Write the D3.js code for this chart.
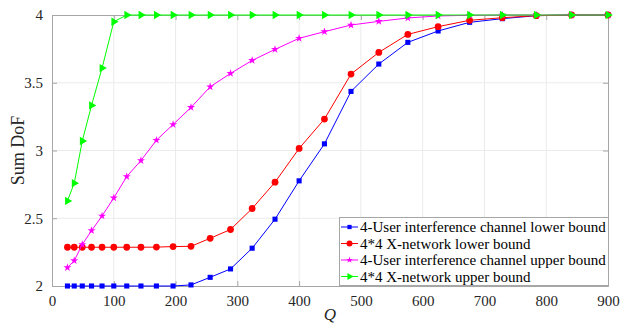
<!DOCTYPE html>
<html><head><meta charset="utf-8">
<script src="https://cdn.jsdelivr.net/npm/d3@7"></script>
<style>body{margin:0;background:#fff}svg{display:block}</style>
</head><body><svg id="c" width="628" height="325" font-family="Liberation Serif"></svg>
<script>
const Q = [25,36,49,64,81,100,121,144,169,196,225,256,289,324,361,400,441,484,529,576,625,676,729,784,841,900];
const icLower = [2,2,2,2,2,2,2,2,2,2,2.008,2.064,2.126,2.279,2.493,2.776,3.049,3.436,3.638,3.798,3.882,3.946,3.973,3.995,4,4];
const xnLower = [2.286,2.286,2.286,2.286,2.286,2.286,2.286,2.286,2.287,2.291,2.293,2.352,2.417,2.572,2.766,3.015,3.232,3.564,3.724,3.857,3.914,3.961,3.980,3.995,4,4];
const icUpper = [2.136,2.187,2.306,2.409,2.517,2.650,2.808,2.926,3.076,3.192,3.318,3.470,3.569,3.665,3.746,3.828,3.877,3.926,3.953,3.978,3.993,3.998,4,4,4,4];
const xnUpper = [2.628,2.759,3.07,3.333,3.608,3.95,4,4,4,4,4,4,4,4,4,4,4,4,4,4,4,4,4,4,4,4];
const seriesNames = ["4-User interference channel lower bound","4*4 X-network lower bound","4-User interference channel upper bound","4*4 X-network upper bound"];
const xTicks = [0,100,200,300,400,500,600,700,800,900];
const yTicks = [2,2.5,3,3.5,4];

const FONT = "Liberation Serif";
const series = [
  {name:seriesNames[0], values:icLower, color:"#0000ff", sym:d3.symbolSquare, size:26, lsize:18, rot:0},
  {name:seriesNames[1], values:xnLower, color:"#ff0000", sym:d3.symbolCircle, size:36, lsize:28, rot:0},
  {name:seriesNames[2], values:icUpper, color:"#ff00ff", sym:d3.symbolStar, size:20, lsize:14, rot:0},
  {name:seriesNames[3], values:xnUpper, color:"#00ff00", sym:d3.symbolTriangle, size:30, lsize:22, rot:90}
];

const svg = d3.select("#c");
const L=52, R=608, T=15, B=286;
const x = d3.scaleLinear().domain([0,900]).range([L,R]);
const y = d3.scaleLinear().domain([2,4]).range([B,T]);

// grid
const g = svg.append("g");
g.selectAll("line.gx").data(xTicks.slice(1,-1)).join("line").attr("class","gx")
  .attr("x1",d=>x(d)).attr("x2",d=>x(d)).attr("y1",T).attr("y2",B)
  .attr("stroke","#ebebeb").attr("stroke-width",1);
g.selectAll("line.gy").data(yTicks.slice(1,-1)).join("line").attr("class","gy")
  .attr("x1",L).attr("x2",R).attr("y1",d=>y(d)).attr("y2",d=>y(d))
  .attr("stroke","#ebebeb").attr("stroke-width",1);

// axes
const ax = svg.append("g").attr("transform",`translate(0,${B})`)
  .call(d3.axisBottom(x).tickValues(xTicks).tickSizeInner(-5).tickSizeOuter(0).tickPadding(9));
const ay = svg.append("g").attr("transform",`translate(${L},0)`)
  .call(d3.axisLeft(y).tickValues(yTicks).tickFormat(d3.format("~g")).tickSizeInner(-5).tickSizeOuter(0).tickPadding(9));
const axTop = svg.append("g").attr("transform",`translate(0,${T})`)
  .call(d3.axisTop(x).tickValues(xTicks).tickSize(-5).tickFormat(""));
const ayR = svg.append("g").attr("transform",`translate(${R},0)`)
  .call(d3.axisRight(y).tickValues(yTicks).tickSize(-5).tickFormat(""));
[ax,ay,axTop,ayR].forEach(a=>{
  a.attr("font-family",FONT).attr("font-size",15);
  a.selectAll("path").attr("stroke","#a6a6a6");
  a.selectAll("line").attr("stroke","#a6a6a6");
  a.selectAll("text").attr("fill","#262626").style("font-family",FONT).style("font-size","15px");
});

// lines & markers
const lineGen = d3.line().x((d,i)=>x(Q[i])).y(d=>y(d));
series.forEach(s=>{
  const sg = svg.append("g");
  sg.append("path").attr("d",lineGen(s.values)).attr("fill","none").attr("stroke",s.color).attr("stroke-width",1);
  sg.selectAll("path.m").data(s.values).join("path").attr("class","m")
    .attr("d",d3.symbol(s.sym, s.size)())
    .attr("transform",(d,i)=>`translate(${x(Q[i])},${y(d)}) rotate(${s.rot})`)
    .attr("fill",s.color).attr("stroke","none");
});

// labels
svg.append("text").attr("x",x(450)).attr("y",320).attr("text-anchor","middle")
  .style("font-family",FONT).style("font-size","17px").style("font-style","italic").attr("fill","#262626").text("Q");
svg.append("text").attr("transform",`translate(24,${(T+B)/2}) rotate(-90)`).attr("text-anchor","middle")
  .style("font-family",FONT).style("font-size","18px").attr("fill","#262626").text("Sum DoF");

// legend
const lg = svg.append("g");
const lx=339, ly=217, lw=269, lh=68;
lg.append("rect").attr("x",lx+0.5).attr("y",ly+0.5).attr("width",lw).attr("height",lh)
  .attr("fill","#fff").attr("stroke","#a6a6a6").attr("stroke-width",1);
series.forEach((s,i)=>{
  const yy = ly+10+i*16.5;
  lg.append("line").attr("x1",lx+2).attr("x2",lx+19).attr("y1",yy).attr("y2",yy).attr("stroke",s.color).attr("stroke-width",1);
  lg.append("path").attr("d",d3.symbol(s.sym, s.lsize)())
    .attr("transform",`translate(${lx+10.5},${yy}) rotate(${s.rot})`).attr("fill",s.color);
  lg.append("text").attr("x",lx+21).attr("y",yy+5).style("font-family",FONT).style("font-size","15px").attr("fill","#000").text(s.name);
});
</script></body></html>
